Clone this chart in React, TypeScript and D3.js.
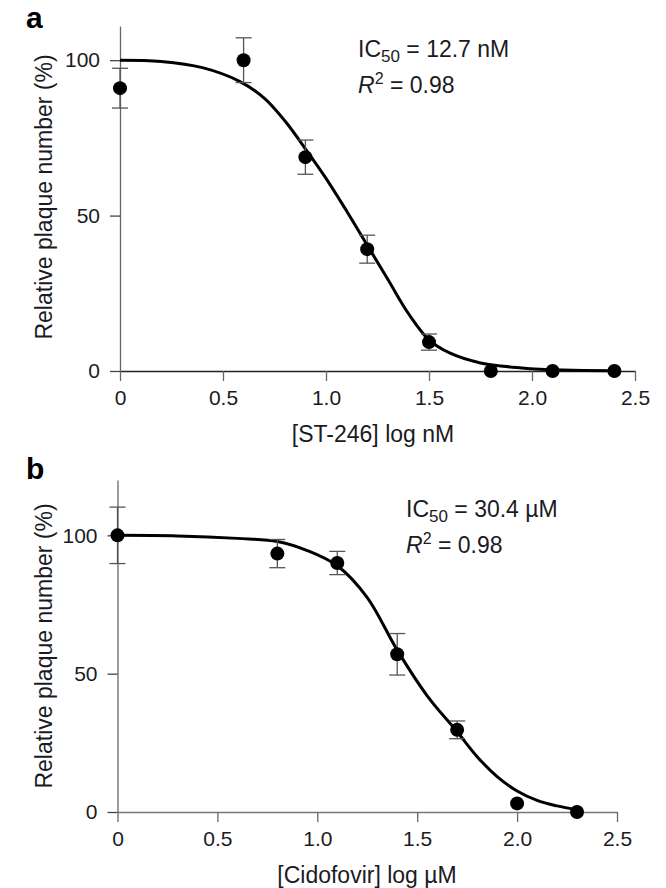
import { useEffect, useRef } from 'react'
import * as d3 from 'd3'

// panel a: ST-246
const doseA = [0, 0.6, 0.9, 1.2, 1.5, 1.8, 2.1, 2.4]
const plaqueA = [91, 100, 68.8, 39.2, 9.3, 0, 0, 0]
const errA = [6.4, 7.2, 5.5, 4.5, 2.6, 0, 0, 0]
const fitXA = [0, 0.2, 0.4, 0.58, 0.7, 0.8, 0.9, 1.0, 1.1, 1.2, 1.3, 1.4, 1.5, 1.6, 1.75, 1.95, 2.15, 2.4]
const fitYA = [100, 99.6, 97.6, 93.2, 87.8, 80.5, 71.5, 62, 51.5, 40.5, 29.5, 18.5, 10, 5.8, 2.6, 1, 0.3, 0.1]

// panel b: Cidofovir
const doseB = [0, 0.8, 1.1, 1.4, 1.7, 2.0, 2.3]
const plaqueB = [100, 93.4, 90, 57, 29.7, 3.1, 0]
const errB = [10.2, 5.1, 4.2, 7.5, 3.2, 0, 0]
const fitXB = [0, 0.3, 0.6, 0.8, 0.95, 1.1, 1.25, 1.4, 1.55, 1.7, 1.8, 1.9, 2.0, 2.1, 2.2, 2.3]
const fitYB = [100, 99.8, 98.9, 97.8, 94.5, 89, 77.5, 58.5, 42, 29, 20, 12.8, 7.6, 4.2, 2.2, 0.8]

const xTicks = [0, 0.5, 1.0, 1.5, 2.0, 2.5]
const yTicks = [0, 50, 100]

const FONT = '"Liberation Sans", Arial, sans-serif'
const TEXT = '#1b1b1f'

const PANELS = [
  {
    label: 'a', dose: doseA, resp: plaqueA, err: errA, fitX: fitXA, fitY: fitYA,
    yMax: 111, left: 120, right: 635, bottom: 371, top: 26,
    xTitle: '[ST-246] log nM', xTitleX: 373, ic50: '12.7 nM',
    labelY: 28, annX: 358, annY: 57, yTitleY: 197, xAxisColor: '#222',
  },
  {
    label: 'b', dose: doseB, resp: plaqueB, err: errB, fitX: fitXB, fitY: fitYB,
    yMax: 120, left: 117.5, right: 617, bottom: 812, top: 480,
    xTitle: '[Cidofovir] log µM', xTitleX: 367, ic50: '30.4 µM',
    labelY: 479, annX: 406, annY: 517, yTitleY: 646, xAxisColor: '#777',
  },
]

export default function App() {
  const svgRef = useRef<SVGSVGElement>(null)

  useEffect(() => {
    const svg = d3.select(svgRef.current)
    svg.selectAll('*').remove()

    PANELS.forEach(p => {
      const g = svg.append('g')
      const x = d3.scaleLinear().domain([0, 2.5]).range([p.left, p.right])
      const y = d3.scaleLinear().domain([0, p.yMax]).range([p.bottom, p.top])

      // x axis
      g.append('g')
        .attr('transform', `translate(0,${p.bottom})`)
        .call(d3.axisBottom(x).tickValues(xTicks).tickSize(10).tickSizeOuter(0).tickPadding(9))
        .call(a => {
          a.select('.domain').attr('stroke', p.xAxisColor).attr('stroke-width', 1.3)
          a.selectAll('line').attr('stroke', '#666').attr('stroke-width', 1.3)
          a.selectAll('text').attr('fill', TEXT).attr('font-size', 21).attr('font-family', FONT)
            .text((d: any) => (d === 0 ? '0' : d3.format('.1f')(d)))
        })

      // y axis
      g.append('g')
        .attr('transform', `translate(${p.left},0)`)
        .call(d3.axisLeft(y).tickValues(yTicks).tickSize(10).tickSizeOuter(0).tickPadding(10))
        .call(a => {
          a.select('.domain').attr('stroke', '#666').attr('stroke-width', 1.3)
          a.selectAll('line').attr('stroke', '#444').attr('stroke-width', 1.3)
          a.selectAll('text').attr('fill', TEXT).attr('font-size', 21).attr('font-family', FONT)
        })

      // fitted curve
      const fit = p.fitX.map((v, i) => [v, p.fitY[i]] as [number, number])
      g.append('path')
        .datum(fit)
        .attr('fill', 'none')
        .attr('stroke', '#000')
        .attr('stroke-width', 3)
        .attr('d', d3.line<[number, number]>().x(d => x(d[0])).y(d => y(d[1])).curve(d3.curveCatmullRom))

      // error bars
      p.dose.forEach((dv, i) => {
        if (!p.err[i]) return
        const cx = x(dv)
        const hi = y(p.resp[i] + p.err[i])
        const lo = y(p.resp[i] - p.err[i])
        const eb = g.append('g').attr('stroke', '#555').attr('stroke-width', 1.3)
        eb.append('line').attr('x1', cx).attr('x2', cx).attr('y1', hi).attr('y2', lo)
        eb.append('line').attr('x1', cx - 8).attr('x2', cx + 8).attr('y1', hi).attr('y2', hi)
        eb.append('line').attr('x1', cx - 8).attr('x2', cx + 8).attr('y1', lo).attr('y2', lo)
      })

      // points
      g.selectAll('circle.pt')
        .data(p.dose)
        .join('circle')
        .attr('class', 'pt')
        .attr('cx', d => x(d))
        .attr('cy', (_d, i) => y(p.resp[i]))
        .attr('r', 7)
        .attr('fill', '#000')

      // axis titles
      g.append('text')
        .attr('x', p.xTitleX)
        .attr('y', p.bottom + 71)
        .attr('text-anchor', 'middle')
        .attr('fill', TEXT)
        .attr('font-size', 23)
        .attr('font-family', FONT)
        .text(p.xTitle)

      g.append('text')
        .attr('transform', `translate(52,${p.yTitleY}) rotate(-90)`)
        .attr('text-anchor', 'middle')
        .attr('fill', TEXT)
        .attr('font-size', 23)
        .attr('font-family', FONT)
        .text('Relative plaque number (%)')

      // panel letter
      g.append('text')
        .attr('x', 26)
        .attr('y', p.labelY)
        .attr('fill', '#000')
        .attr('font-size', 30)
        .attr('font-weight', 'bold')
        .attr('font-family', FONT)
        .text(p.label)

      // annotation
      const t1 = g.append('text')
        .attr('x', p.annX).attr('y', p.annY)
        .attr('fill', TEXT).attr('font-size', 23).attr('font-family', FONT)
      t1.append('tspan').text('IC')
      t1.append('tspan').attr('font-size', 17).attr('dy', 5).text('50')
      t1.append('tspan').attr('dy', -5).text(' = ' + p.ic50)

      const t2 = g.append('text')
        .attr('x', p.annX).attr('y', p.annY + 36)
        .attr('fill', TEXT).attr('font-size', 23).attr('font-family', FONT)
      t2.append('tspan').attr('font-style', 'italic').text('R')
      t2.append('tspan').attr('font-size', 16).attr('dy', -9).text('2')
      t2.append('tspan').attr('dy', 9).text(' = 0.98')
    })
  }, [])

  return (
    <svg
      ref={svgRef}
      width={666}
      height={888}
      style={{ position: 'absolute', left: 0, top: 0, background: '#fff', display: 'block' }}
    />
  )
}
